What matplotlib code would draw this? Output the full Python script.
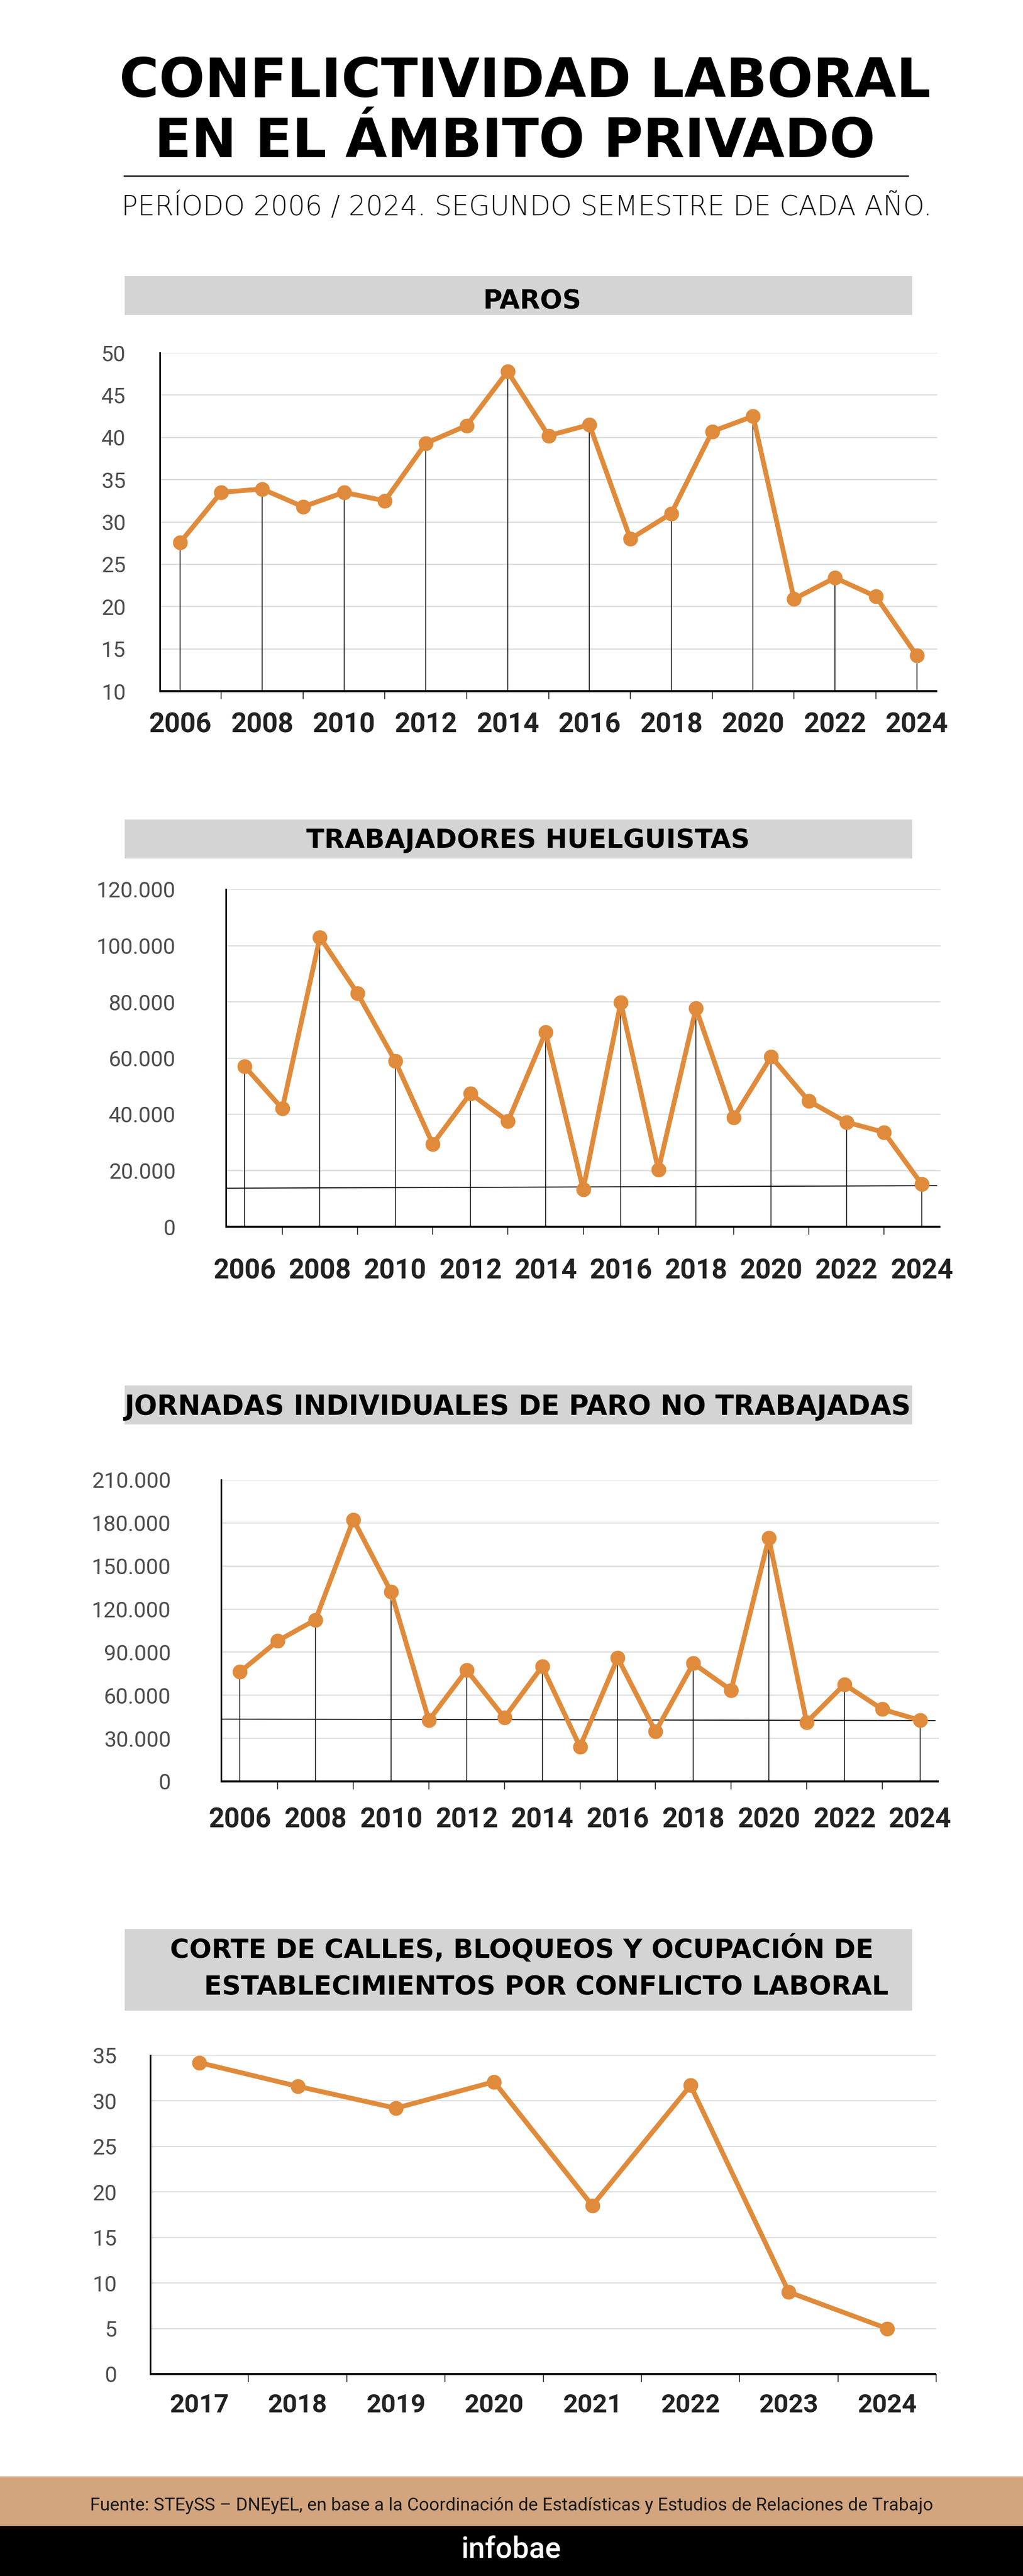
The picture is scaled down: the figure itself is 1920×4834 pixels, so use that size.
import numpy as np
import matplotlib.pyplot as plt
from matplotlib.patches import Rectangle
from matplotlib.ticker import FuncFormatter

plt.rcParams['font.family'] = ['Roboto', 'DejaVu Sans']

# datos, segundo semestre de cada año
years = list(range(2006, 2025))
paros = [27.6, 33.5, 33.9, 31.8, 33.5, 32.5, 39.3, 41.4, 47.8, 40.2,
         41.5, 28.0, 31.0, 40.7, 42.5, 20.9, 23.4, 21.2, 14.2]
huelguistas = [57000, 42000, 103000, 83000, 59000, 29400, 47400, 37500, 69100, 13300,
               79800, 20200, 77700, 38800, 60500, 44700, 37200, 33600, 15200]
jornadas = [76300, 97900, 112600, 182300, 132000, 42600, 77500, 44400, 80100, 24200,
            86000, 34700, 82200, 63600, 169400, 41200, 67600, 50300, 42600]
corte_years = list(range(2017, 2025))
cortes = [34.2, 31.6, 29.2, 32.1, 18.5, 31.7, 9.0, 5.0]

# lineas de referencia casi planas (inicio, fin)
huelguistas_ref = [13700, 14600]
jornadas_ref = [43400, 42400]

paros_ticks = list(range(10, 51, 5))
huelguistas_ticks = list(range(0, 120001, 20000))
jornadas_ticks = list(range(0, 210001, 30000))
cortes_ticks = list(range(0, 36, 5))

ORANGE = '#E08B3B'
GRID = '#DCDCDC'
HEAD = '#D4D4D4'

W, H = 1920, 4834
fig = plt.figure(figsize=(W / 100, H / 100), dpi=100)
fig.patch.set_facecolor('white')


def px_axes(l, t, r, b):
    return fig.add_axes([l / W, 1 - b / H, (r - l) / W, (b - t) / H])


def ftext(x, y, s, **kw):
    fig.text(x / W, 1 - y / H, s, **kw)


def band(l, t, r, b, color):
    fig.add_artist(Rectangle((l / W, 1 - b / H), (r - l) / W, (b - t) / H,
                             transform=fig.transFigure, facecolor=color, lw=0, zorder=0))


def miles(v, pos):
    return f'{int(v):,}'.replace(',', '.')


def simple(v, pos):
    return f'{int(v)}'


def line_chart(ax, labels, values, yticks, fmt, ypad, xpad, xsize,
               drops=False, ref=None, every=2):
    x = np.arange(len(values))
    ax.set_xlim(-0.5, len(values) - 0.5)
    ax.set_ylim(yticks[0], yticks[-1])
    for s in ['top', 'right']:
        ax.spines[s].set_visible(False)
    ax.spines['left'].set_linewidth(2.2)
    ax.spines['bottom'].set_linewidth(2.8)
    ax.spines['bottom'].set_capstyle('butt')

    ax.set_yticks(yticks)
    ax.yaxis.set_major_formatter(FuncFormatter(fmt))
    ax.set_yticks([yticks[0], yticks[-1]], minor=True)
    ax.tick_params(axis='y', which='major', length=0, pad=ypad,
                   labelsize=29.5, labelcolor='#4d4d4d')
    ax.tick_params(axis='y', which='minor', length=13, width=2.6, color='black')
    ax.yaxis.grid(True, color=GRID, lw=1.6)
    ax.set_axisbelow(True)

    if every == 2:
        ax.set_xticks(x[::2], [str(y) for y in labels[::2]],
                      fontsize=xsize, fontweight='bold', color='#222222')
        ax.set_xticks(x[1::2], minor=True)
    else:
        ax.set_xticks(x, [str(y) for y in labels],
                      fontsize=xsize, fontweight='bold', color='#222222')
        ax.set_xticks(x + 0.5, minor=True)
    ax.tick_params(axis='x', which='major', length=0, pad=xpad)
    ax.tick_params(axis='x', which='minor', length=11, width=1.2, color='#222222')

    if drops:
        ax.vlines(x[::2], yticks[0], np.array(values)[::2], color='black', lw=1.1, zorder=2)
    if ref is not None:
        ax.plot([-0.5, len(values) - 0.6], ref, color='black', lw=1.3, zorder=2)

    ax.plot(x, values, color=ORANGE, lw=6.5, marker='o', markersize=19,
            solid_joinstyle='round', solid_capstyle='round', zorder=3, clip_on=False)


# titulo
ftext(985, 182, 'CONFLICTIVIDAD LABORAL', ha='center', va='baseline',
      fontsize=73, fontweight='bold', family='DejaVu Sans', color='black')
ftext(966, 295, 'EN EL ÁMBITO PRIVADO', ha='center', va='baseline',
      fontsize=73, fontweight='bold', family='DejaVu Sans', color='black')
fig.add_artist(plt.Line2D([233 / W, 1704 / W], [1 - 330 / H, 1 - 330 / H],
                          transform=fig.transFigure, color='#222222', lw=2))
ftext(989, 404, 'PERÍODO 2006 / 2024. SEGUNDO SEMESTRE DE CADA AÑO.', ha='center',
      va='baseline', fontsize=36.5, fontweight=200, family='DejaVu Sans', color='#111111')

# encabezados
head_kw = dict(ha='center', va='baseline', fontsize=35.5, fontweight='bold',
               family='DejaVu Sans', color='black')
band(234, 518, 1712, 591, HEAD)
ftext(999, 579, 'PAROS', **head_kw)
band(234, 1538, 1712, 1611, HEAD)
ftext(991, 1591, 'TRABAJADORES HUELGUISTAS', **head_kw)
band(234, 2600, 1712, 2673, HEAD)
ftext(972, 2655, 'JORNADAS INDIVIDUALES DE PARO NO TRABAJADAS', **dict(head_kw, fontsize=36.5))
band(234, 3620, 1712, 3773, HEAD)
ftext(979, 3674, 'CORTE DE CALLES, BLOQUEOS Y OCUPACIÓN DE', **head_kw)
ftext(1025, 3744, 'ESTABLECIMIENTOS POR CONFLICTO LABORAL', **head_kw)

# graficos
ax1 = px_axes(300, 662, 1759, 1297)
line_chart(ax1, years, paros, paros_ticks, simple, ypad=46, xpad=28, xsize=37, drops=True)

ax2 = px_axes(424, 1669, 1765, 2302)
line_chart(ax2, years, huelguistas, huelguistas_ticks, miles, ypad=68, xpad=42, xsize=37,
           drops=True, ref=huelguistas_ref)

ax3 = px_axes(415, 2777, 1762, 3343)
line_chart(ax3, years, jornadas, jornadas_ticks, miles, ypad=68, xpad=34, xsize=37,
           drops=True, ref=jornadas_ref)

ax4 = px_axes(282, 3857, 1757, 4455)
line_chart(ax4, corte_years, cortes, cortes_ticks, simple, ypad=45, xpad=26, xsize=35,
           every=1)

# pie
band(0, 4647, W, 4740, '#D3A57E')
band(0, 4740, W, H, 'black')
ftext(960, 4711, 'Fuente: STEySS – DNEyEL, en base a la Coordinación de Estadísticas y Estudios de Relaciones de Trabajo',
      ha='center', va='baseline', fontsize=24.3, color='#1a1a1a')
ftext(959, 4800, 'infobae', ha='center', va='baseline', fontsize=40,
      fontweight='medium', color='white')

fig.savefig('out.png', dpi=100, facecolor='white')
